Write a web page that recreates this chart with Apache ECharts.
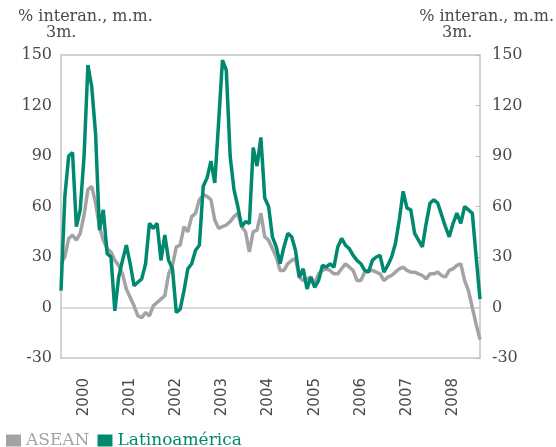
<!DOCTYPE html>
<html>
<head>
<meta charset="utf-8">
<script src="https://cdn.jsdelivr.net/npm/echarts@6/dist/echarts.min.js"></script>
<style>
  html, body { margin: 0; padding: 0; background: #fff; }
  #chart { width: 556px; height: 447px; }
</style>
</head>
<body>
<div id="chart"></div>
<script>
// monthly, Jan 2000 .. Feb 2009
const years = [2000, 2001, 2002, 2003, 2004, 2005, 2006, 2007, 2008, 2009];
const months = [];
years.forEach(y => {
  for (let m = 1; m <= 12; m++) {
    if (y === 2009 && m > 2) break;
    months.push(y + '-' + (m < 10 ? '0' + m : m));
  }
});

const asean = [
  26, 30, 41, 43, 40, 44, 55, 70, 72, 62, 48, 40,
  35, 33, 28, 25, 20, 11, 6, 1, -5, -6, -3, -5,
  1, 3, 5, 7, 20, 25, 36, 37, 48, 45, 54, 56,
  64, 67, 66, 64, 52, 47, 48, 49, 51, 54, 56, 48,
  45, 33, 45, 46, 56, 42, 40, 35, 30, 22, 22, 26,
  28, 29, 18, 16, 17, 18, 14, 20, 22, 23, 22, 20,
  20, 23, 26, 24, 22, 16, 16, 21, 22, 22, 21, 20,
  16, 18, 19, 21, 23, 24, 22, 21, 21, 20, 19, 17,
  20, 20, 21, 19, 18, 22, 23, 25, 26, 16, 10, 0,
  -10, -19
];

const latam = [
  10, 66, 90, 92, 48, 58, 90, 144, 131, 103, 46, 58,
  32, 30, -2, 18, 28, 37, 26, 13, 15, 17, 26, 50,
  47, 50, 28, 43, 28, 23, -3, -1, 10, 23, 26, 34,
  37, 72, 77, 87, 74, 110, 147, 141, 90, 70, 60, 48,
  51, 50, 95, 84, 101, 65, 60, 42, 36, 26, 36, 44,
  42, 34, 18, 23, 11, 18, 12, 16, 25, 24, 26, 24,
  36, 41, 37, 35, 31, 28, 26, 22, 21, 28, 30, 31,
  21, 25, 30, 38, 52, 69, 59, 58, 44, 40, 36, 50,
  62, 64, 62, 55, 48, 42, 50, 56, 50, 60, 58, 56,
  30, 5
];

const yTicks = [-30, 0, 30, 60, 90, 120, 150];
const axisTitle = ['% interan., m.m.', '3m.'];

const GRAY = '#a3a3a6';
const GREEN = '#00896f';
const TEXT = '#4a4a4a';
const SERIF = '"DejaVu Serif", serif';

const chart = echarts.init(document.getElementById('chart'));

const yAxisBase = {
  type: 'value',
  min: yTicks[0],
  max: yTicks[yTicks.length - 1],
  interval: 30,
  splitLine: { show: false },
  axisLine: { show: false },
  axisLabel: { color: TEXT, fontFamily: SERIF, fontSize: 16, margin: 9 }
};

chart.setOption({
  animation: false,
  grid: {
    left: 61, right: 76, top: 55, bottom: 89,
    show: true, borderColor: '#d2d2d2', borderWidth: 2
  },
  graphic: [
    { type: 'text', left: 18, top: 9,
      style: { text: axisTitle[0], fill: TEXT, font: '16px ' + SERIF } },
    { type: 'text', left: 46, top: 25,
      style: { text: axisTitle[1], fill: TEXT, font: '16px ' + SERIF } },
    { type: 'text', right: 2, top: 9,
      style: { text: axisTitle[0], fill: TEXT, font: '16px ' + SERIF } },
    { type: 'text', left: 442, top: 25,
      style: { text: axisTitle[1], fill: TEXT, font: '16px ' + SERIF } }
  ],
  legend: {
    left: 1, top: 427,
    icon: 'rect', itemWidth: 15, itemHeight: 12, itemGap: 8,
    textStyle: { fontFamily: SERIF, fontSize: 17 },
    data: [
      { name: 'ASEAN', textStyle: { color: GRAY } },
      { name: 'Latinoamérica', textStyle: { color: GREEN } }
    ]
  },
  xAxis: {
    type: 'category',
    boundaryGap: false,
    data: months,
    axisLine: { show: false },
    axisTick: { show: false },
    axisLabel: {
      rotate: 90,
      margin: 20,
      color: TEXT,
      fontFamily: '"DejaVu Sans", sans-serif',
      fontSize: 15,
      interval: (i) => i % 12 === 6,
      formatter: (v) => v.slice(0, 4)
    }
  },
  yAxis: [
    Object.assign({}, yAxisBase, { position: 'left', axisTick: { show: false } }),
    Object.assign({}, yAxisBase, {
      position: 'right',
      axisTick: { show: true, inside: true, length: 4, lineStyle: { color: '#bbb' } },
      axisLabel: Object.assign({}, yAxisBase.axisLabel, { margin: 12 })
    })
  ],
  series: [
    {
      name: 'ASEAN', type: 'line', data: asean,
      showSymbol: false, color: GRAY,
      lineStyle: { width: 3.5, color: GRAY },
      markLine: {
        silent: true, symbol: 'none', label: { show: false },
        lineStyle: { color: '#cfcfcf', width: 1.5, type: 'solid' },
        data: [{ yAxis: 0 }],
        z: 1
      }
    },
    {
      name: 'Latinoamérica', type: 'line', data: latam,
      showSymbol: false, color: GREEN,
      lineStyle: { width: 3.5, color: GREEN }
    }
  ]
});
</script>
</body>
</html>
